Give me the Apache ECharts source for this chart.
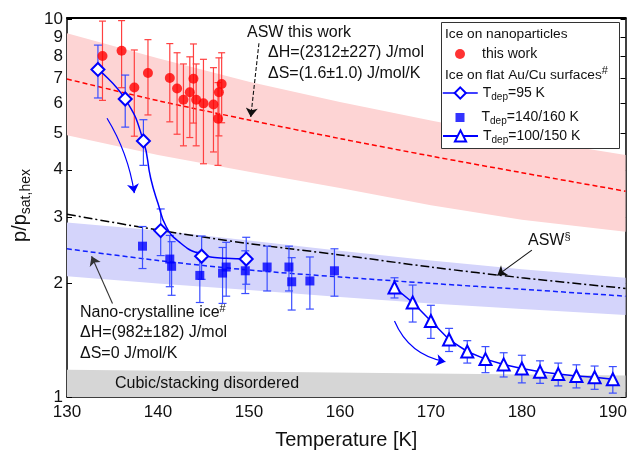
<!DOCTYPE html>
<html>
<head>
<meta charset="utf-8">
<script src="https://cdn.jsdelivr.net/npm/echarts@6/dist/echarts.min.js"></script>
<style>
html, body { margin: 0; padding: 0; background: #fff; }
#chart { width: 630px; height: 455px; }
</style>
</head>
<body>
<div id="chart"></div>
<script>
const FONT = '"Liberation Sans", Arial, sans-serif';
const INK = '#111';

// ice on nanoparticles, this work
const np_T = [133.9, 136.0, 137.4, 138.9, 141.3, 142.1, 142.8, 143.5, 143.9, 144.2, 145.0, 146.1, 146.6, 146.7, 147.0];
const np_p = [8.01, 8.27, 6.61, 7.22, 7.00, 6.57, 6.13, 6.42, 6.97, 6.13, 6.00, 5.96, 5.46, 6.42, 6.75];
const np_err = [1.9, 1.67, 1.7, 1.63, 1.64, 1.6, 1.5, 1.55, 1.65, 1.5, 1.85, 1.5, 1.35, 1.5, 1.42];

// flat Au/Cu surfaces
const dep95_T = [133.4, 136.4, 138.4, 140.3, 144.8, 149.7];
const dep95_p = [7.38, 6.16, 4.77, 2.76, 2.36, 2.32];
const dep95_err = [1.18, 0.97, 0.66, 0.39, 0.31, 0.33];
// guide curve drawn through the Tdep=95 K points
const dep95_curve_T = [133.4, 136.4, 138.4, 139.2, 140.0, 140.9, 142.3, 144.5, 147.5, 149.7];
const dep95_curve_p = [7.38, 6.16, 4.77, 3.8, 3.26, 2.83, 2.58, 2.40, 2.33, 2.32];

const dep140_T = [138.3, 141.3, 141.5, 144.6, 147.1, 147.5, 149.6, 152.0, 154.4, 154.7, 156.7, 159.4];
const dep140_p = [2.51, 2.32, 2.22, 2.10, 2.13, 2.21, 2.16, 2.21, 2.21, 2.02, 2.03, 2.16];
const dep140_err = [0.32, 0.36, 0.36, 0.32, 0.36, 0.36, 0.28, 0.3, 0.3, 0.32, 0.32, 0.31];

const dep100_T = [166, 168, 170, 172, 174, 176, 178, 180, 182, 184, 186, 188, 190];
const dep100_p = [1.95, 1.78, 1.59, 1.42, 1.32, 1.26, 1.22, 1.19, 1.167, 1.15, 1.137, 1.128, 1.114];
const dep100_err = [0.12, 0.2, 0.16, 0.1, 0.09, 0.1, 0.09, 0.1, 0.08, 0.08, 0.08, 0.08, 0.09];

// fitted curves and their uncertainty bands
const band_T = [130, 140, 150, 160, 170, 180, 191.4];
const asw_upper = [9.2, 7.9, 6.85, 6.05, 5.4, 4.85, 4.38];
const asw_lower = [4.94, 4.38, 3.95, 3.58, 3.22, 2.95, 2.74];
const asw_fit = [6.96, 6.1, 5.42, 4.84, 4.35, 3.93, 3.51];
const nci_upper = [2.9, 2.76, 2.6, 2.44, 2.3, 2.18, 2.07];
const nci_lower = [2.09, 2.0, 1.92, 1.84, 1.77, 1.71, 1.65];
const nci_fit = [2.47, 2.3, 2.17, 2.08, 2.0, 1.93, 1.85];
const asw_lit = [3.05, 2.77, 2.55, 2.38, 2.21, 2.07, 1.94];
const cubic_T = [130, 191.4];
const cubic_upper = [1.18, 1.14];

const y_ticks = [1, 2, 3, 4, 5, 6, 7, 8, 9, 10];

// annotation arrows [start, end] in data units
const asw_arrow = [[151.1, 8.66], [150.2, 5.52]];
const aswlit_arrow = [[181.1, 2.45], [177.3, 2.10]];
const nci_arrow = [[135.0, 1.77], [132.7, 2.36]];
const heat_arrow_1 = [[134.4, 5.48], [137.4, 3.47]];
const heat_arrow_2 = [[166.0, 1.59], [171.6, 1.24]];

const zip = (xs, ys) => xs.map((x, i) => [x, ys[i]]);

function errorBars(T, p, err, color, halfCap) {
    return {
        type: 'custom',
        silent: true,
        z: 3,
        data: T.map((t, i) => [t, p[i] - err[i], p[i] + err[i]]),
        encode: { x: 0, y: [1, 2] },
        renderItem: (params, api) => {
            const top = api.coord([api.value(0), api.value(2)]);
            const bot = api.coord([api.value(0), api.value(1)]);
            const st = { stroke: color, lineWidth: 1.2 };
            return {
                type: 'group',
                children: [
                    { type: 'line', shape: { x1: top[0], y1: top[1], x2: bot[0], y2: bot[1] }, style: st },
                    { type: 'line', shape: { x1: top[0] - halfCap, y1: top[1], x2: top[0] + halfCap, y2: top[1] }, style: st },
                    { type: 'line', shape: { x1: bot[0] - halfCap, y1: bot[1], x2: bot[0] + halfCap, y2: bot[1] }, style: st },
                ],
            };
        },
    };
}

// shaded band between lower and upper, one polygon
function band(T, lower, upper, color) {
    return {
        type: 'custom',
        silent: true,
        z: 1,
        data: T.map((t, i) => [t, lower[i], upper[i]]),
        encode: { x: 0, y: [1, 2] },
        renderItem: (params, api) => {
            if (params.dataIndex !== 0) return null;
            const top = T.map((t, i) => api.coord([t, upper[i]]));
            const bot = T.map((t, i) => api.coord([t, lower[i]])).reverse();
            return { type: 'polygon', shape: { points: top.concat(bot) }, style: { fill: color } };
        },
    };
}

function legendAt(data, left, top, w, h, lead) {
    return {
        orient: 'vertical', left: left, top: top, padding: 0,
        itemWidth: w, itemHeight: h, itemGap: 0,
        selectedMode: false, z: 6,
        data: data,
        formatter: name => {
            const m = name.match(/^Tdep(.*)$/);
            return m ? `{f|T}{s|dep}{a|${m[1]}}` : `{f|${name}}`;
        },
        textStyle: {
            rich: {
                f: { fontSize: 14, color: INK, fontFamily: FONT, lineHeight: 18, padding: [0, 0, 0, lead] },
                a: { fontSize: 14, color: INK, fontFamily: FONT, lineHeight: 18 },
                s: { fontSize: 10, color: INK, fontFamily: FONT, lineHeight: 8, verticalAlign: 'bottom' },
            },
        },
    };
}

function label(x, y, text, size) {
    size = size || 16;
    return {
        type: 'text', x: x, y: y, z: 6, silent: true,
        style: {
            text: text, fill: INK, font: `${size}px ${FONT}`, verticalAlign: 'middle',
            rich: {
                a: { fontSize: size, fontFamily: FONT, fill: INK, lineHeight: 20 },
                sup: { fontSize: 11, fontFamily: FONT, fill: INK, lineHeight: 10, verticalAlign: 'top' },
            },
        },
    };
}

const chart = echarts.init(document.getElementById('chart'));
chart.setOption({
    animation: false,
    grid: { left: 67, right: 1, top: 18, bottom: 58 },
    xAxis: [
        {
            type: 'value', min: 130, max: 191.4, interval: 10,
            axisLine: { lineStyle: { color: '#000', width: 1.5 } },
            axisTick: { inside: true, length: 5, lineStyle: { color: '#000' } },
            minorTick: { show: true, splitNumber: 2, length: 3, lineStyle: { color: '#000' } },
            splitLine: { show: false },
            axisLabel: { fontSize: 17, color: INK, fontFamily: FONT, margin: 7, showMaxLabel: false },
            name: 'Temperature [K]', nameLocation: 'middle', nameGap: 33,
            nameTextStyle: { fontSize: 20, color: INK, fontFamily: FONT },
        },
        {
            type: 'value', min: 130, max: 191.4, position: 'top',
            axisLine: { lineStyle: { color: '#000', width: 2 } },
            axisTick: { show: false }, axisLabel: { show: false }, splitLine: { show: false },
        },
    ],
    yAxis: [
        {
            type: 'log', logBase: 10, min: 1, max: 10.1,
            axisLine: { show: true, lineStyle: { color: '#000', width: 1.5 } },
            axisTick: { inside: true, length: 5, customValues: y_ticks, lineStyle: { color: '#000' } },
            axisLabel: { fontSize: 17, color: INK, fontFamily: FONT, margin: 4, customValues: y_ticks },
            splitLine: { show: false },
            name: '{a|p/p}{s|sat,hex}', nameLocation: 'middle', nameGap: 33,
            nameTextStyle: {
                padding: [0, 0, 0, 4],
                rich: {
                    a: { fontSize: 20, color: INK, fontFamily: FONT, lineHeight: 26 },
                    s: { fontSize: 14, color: INK, fontFamily: FONT, lineHeight: 12, verticalAlign: 'bottom' },
                },
            },
        },
        {
            type: 'log', logBase: 10, min: 1, max: 10.1, position: 'right',
            axisLine: { show: true, lineStyle: { color: '#000', width: 1.5 } },
            axisTick: { inside: true, length: 5, customValues: y_ticks, lineStyle: { color: '#000' } },
            axisLabel: { show: false }, splitLine: { show: false },
        },
    ],
    legend: [
        legendAt([{ name: 'this work', icon: 'circle' }], 455, 47, 10, 10, 12),
        legendAt([{ name: 'Tdep=95 K', lineStyle: { color: '#0000ff', width: 1.5, opacity: 1 } }], 442, 86, 35, 14, 0),
        legendAt([{ name: 'Tdep=140/160 K', icon: 'rect' }], 455.5, 110.5, 9, 9, 12),
        legendAt(['Tdep=100/150 K'], 442, 129, 35, 14, 0),
    ],
    graphic: [
        {
            type: 'rect', z: 5, silent: true,
            shape: { x: 441.5, y: 22.5, width: 178, height: 126 },
            style: { fill: '#fff', stroke: '#333', lineWidth: 1 },
        },
        label(445, 34, 'Ice on nanoparticles', 13.7),
        label(445, 75, '{a|Ice on flat Au/Cu surfaces}{sup|#}', 13.7),
        label(247, 33, 'ASW this work'),
        label(268, 53, 'ΔH=(2312±227) J/mol'),
        label(268, 74, 'ΔS=(1.6±1.0) J/mol/K'),
        label(528, 241, '{a|ASW}{sup|§}'),
        label(80, 313, '{a|Nano-crystalline ice}{sup|#}'),
        label(80, 333, 'ΔH=(982±182) J/mol'),
        label(80, 354, 'ΔS=0 J/mol/K'),
        label(115, 384, 'Cubic/stacking disordered'),
    ],
    series: [
        band(band_T, asw_lower, asw_upper, '#fdd4d4'),
        band(band_T, nci_lower, nci_upper, '#d4d4fb'),
        {
            type: 'line', symbol: 'none', silent: true, z: 1,
            lineStyle: { opacity: 0 },
            areaStyle: { color: '#d6d6d6', opacity: 1, origin: 'start' },
            data: zip(cubic_T, cubic_upper),
        },
        {
            type: 'line', symbol: 'none', silent: true, z: 2, smooth: 0.3,
            lineStyle: { color: '#ff0000', width: 1.5, type: [5, 3] },
            data: zip(band_T, asw_fit),
        },
        {
            type: 'line', symbol: 'none', silent: true, z: 2, smooth: 0.3,
            lineStyle: { color: '#1020ff', width: 1.5, type: [5, 3] },
            data: zip(band_T, nci_fit),
        },
        {
            type: 'line', symbol: 'none', silent: true, z: 2, smooth: 0.3,
            lineStyle: { color: '#000', width: 1.5, type: [9, 3, 2, 3] },
            data: zip(band_T, asw_lit),
        },
        {
            type: 'lines', coordinateSystem: 'cartesian2d', silent: true, z: 5,
            symbol: ['none', 'arrow'], symbolSize: 9,
            lineStyle: { color: '#111', width: 1.1, opacity: 1, curveness: 0 },
            data: [
                { coords: asw_arrow, lineStyle: { type: [4, 2] } },
                { coords: aswlit_arrow },
                { coords: nci_arrow, lineStyle: { color: '#333' } },
            ],
        },
        {
            type: 'lines', coordinateSystem: 'cartesian2d', silent: true, z: 5,
            symbol: ['none', 'arrow'], symbolSize: 9,
            lineStyle: { color: '#0000ff', width: 1.2, opacity: 1 },
            data: [
                { coords: heat_arrow_1, lineStyle: { curveness: 0.1 } },
                { coords: heat_arrow_2, lineStyle: { curveness: -0.27 } },
            ],
        },
        errorBars(np_T, np_p, np_err, '#ff4040', 3.5),
        {
            name: 'this work', type: 'scatter', symbol: 'circle', symbolSize: 10, z: 4,
            itemStyle: { color: '#ff0000' },
            data: zip(np_T, np_p),
        },
        errorBars(dep140_T, dep140_p, dep140_err, '#3a4dff', 4),
        {
            name: 'Tdep=140/160 K', type: 'scatter', symbol: 'rect', symbolSize: 9, z: 4,
            itemStyle: { color: '#0000ff' },
            data: zip(dep140_T, dep140_p),
        },
        {
            type: 'line', symbol: 'none', silent: true, z: 3, smooth: 0.5,
            lineStyle: { color: '#0000ff', width: 1.5 },
            data: zip(dep95_curve_T, dep95_curve_p),
        },
        errorBars(dep95_T, dep95_p, dep95_err, '#3a4dff', 4),
        {
            name: 'Tdep=95 K', type: 'line', symbol: 'emptyDiamond', symbolSize: 13, z: 4,
            itemStyle: { color: '#0000ff', borderWidth: 2 },
            lineStyle: { color: '#0000ff', width: 1.5, opacity: 0 },
            data: zip(dep95_T, dep95_p),
        },
        errorBars(dep100_T, dep100_p, dep100_err, '#3a4dff', 4),
        {
            name: 'Tdep=100/150 K', type: 'line', symbol: 'emptyTriangle', symbolSize: 12, z: 4,
            itemStyle: { color: '#0000ff', borderWidth: 2 },
            lineStyle: { color: '#0000ff', width: 1.5 },
            data: zip(dep100_T, dep100_p),
        },
    ],
});
</script>
</body>
</html>
